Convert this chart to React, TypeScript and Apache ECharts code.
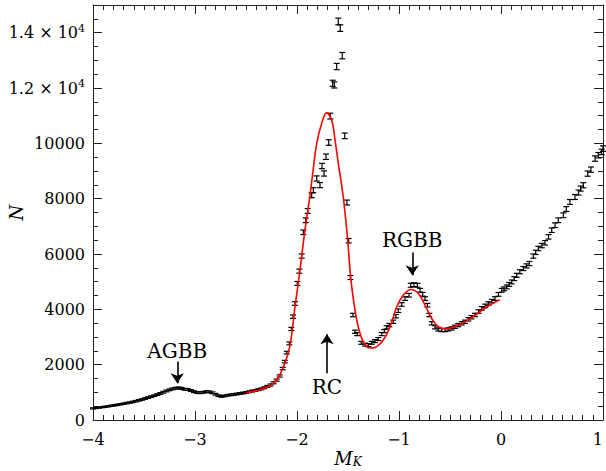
import React, { useEffect, useRef } from "react";
import * as echarts from "echarts";

// Observed counts (black points with error bars)
const obsM: number[] = [
  -4.0, -3.97, -3.94, -3.91, -3.88, -3.85, -3.82, -3.79, -3.76, -3.73, -3.7, -3.67, -3.64, -3.61, -3.58,
  -3.55, -3.52, -3.49, -3.46, -3.43, -3.4, -3.37, -3.34, -3.31, -3.28, -3.25, -3.22, -3.19, -3.16, -3.13,
  -3.1, -3.07, -3.04, -3.01, -2.98, -2.95, -2.92, -2.89, -2.86, -2.83, -2.8, -2.77, -2.74, -2.71, -2.68,
  -2.65, -2.62, -2.59, -2.56, -2.53, -2.5, -2.47, -2.44, -2.41, -2.38, -2.35, -2.32, -2.29, -2.26, -2.23,
  -2.2, -2.17, -2.14, -2.12, -2.1, -2.075, -2.056, -2.039, -2.02, -1.997, -1.977, -1.954, -1.938, -1.915,
  -1.895, -1.856, -1.84, -1.807, -1.775, -1.755, -1.735, -1.716, -1.689, -1.673, -1.65, -1.634, -1.611,
  -1.595, -1.576, -1.556, -1.532, -1.51, -1.493, -1.477, -1.451, -1.431, -1.409, -1.37, -1.333, -1.301,
  -1.268, -1.235, -1.203, -1.17, -1.144, -1.121, -1.095, -1.056, -1.03, -1.007, -0.974, -0.941, -0.902,
  -0.885, -0.853, -0.82, -0.794, -0.768, -0.745, -0.722, -0.703, -0.679, -0.647, -0.615, -0.581, -0.549,
  -0.517, -0.483, -0.451, -0.419, -0.385, -0.353, -0.32, -0.29, -0.255, -0.22, -0.189, -0.155, -0.124,
  -0.09, -0.059, -0.025, 0.007, 0.03, 0.056, 0.08, 0.105, 0.13, 0.154, 0.185, 0.219, 0.25, 0.278, 0.317,
  0.34, 0.366, 0.4, 0.431, 0.466, 0.497, 0.53, 0.562, 0.611, 0.64, 0.676, 0.725, 0.76, 0.781, 0.807, 0.85,
  0.882, 0.922, 0.954, 0.987, 1.0,
];
const obsN: number[] = [
  420, 435, 450, 465, 480, 495, 515, 530, 550, 570, 590, 610, 630, 655, 680,
  710, 740, 775, 810, 845, 880, 920, 960, 1005, 1050, 1090, 1125, 1150, 1160, 1140,
  1110, 1100, 1065, 1025, 995, 985, 1000, 1025, 1020, 985, 930, 880, 850, 870, 895,
  910, 925, 940, 960, 975, 995, 1020, 1045, 1065, 1095, 1125, 1165, 1215, 1265, 1345,
  1440, 1590, 1860, 2110, 2435, 2770, 3290, 3735, 4210, 4935, 5380, 5925, 6785, 7220,
  7555, 8125, 8305, 8730, 8490, 9180, 8910, 9515, 10030, 10985, 12170, 12110, 12775,
  14405, 14165, 13170, 10270, 7860, 6480, 5150, 3795, 3190, 3105, 2790, 2725, 2705,
  2790, 2850, 2925, 3105, 3215, 3350, 3430, 3550, 3750, 3950, 4175, 4390, 4510,
  4870, 4890, 4870, 4690, 4545, 4390, 4150, 3795, 3495, 3350, 3275, 3250, 3250,
  3275, 3310, 3370, 3430, 3495, 3550, 3640, 3715, 3795, 3920, 4035, 4125, 4210,
  4295, 4390, 4540, 4690, 4740, 4810, 4900, 4990, 5110, 5230, 5360, 5475, 5570, 5655, 5925,
  6060, 6200, 6305, 6405, 6620, 6860, 7040, 7220, 7400, 7625, 7880, 8060, 8220, 8365, 8485, 8905,
  9050, 9450, 9570, 9690, 9810,
];

// Fitted model (red curve)
const fitM: number[] = [
  -2.497, -2.366, -2.268, -2.203, -2.154, -2.075, -2.02, -1.971, -1.922, -1.879, -1.846, -1.807,
  -1.758, -1.709, -1.66, -1.627, -1.595, -1.569, -1.539, -1.503, -1.474, -1.431, -1.382, -1.317,
  -1.275, -1.235, -1.154, -1.088, -1.023, -0.958, -0.882, -0.811, -0.745, -0.679, -0.615, -0.533,
  -0.434, -0.32, -0.272, -0.14, -0.01,
];
const fitN: number[] = [
  990, 1085, 1230, 1440, 1740, 2590, 4085, 5415, 6865, 7945, 8910, 10000,
  10720, 11100, 10840, 10115, 9270, 8665, 7825, 6505, 5175, 3975, 3130, 2645,
  2600, 2620, 2890, 3370, 4085, 4510, 4715, 4570, 4150, 3670, 3370, 3290,
  3395, 3615, 3735, 4085, 4350,
];

// Annotations: label, x, text y, arrow start y, arrow tip y
const annLabels: string[] = ["AGBB", "RC", "RGBB"];
const annM: number[] = [-3.174, -1.706, -0.87];
const annTextN: number[] = [2500, 1180, 6500];
const annFromN: number[] = [2110, 1690, 6050];
const annToN: number[] = [1330, 3100, 5230];

const xTicks: number[] = [-4, -3, -2, -1, 0, 1];

const SERIF = "DejaVu Serif";

export default function App() {
  const ref = useRef<HTMLDivElement>(null);
  useEffect(() => {
    if (!ref.current) return;
    const chart = echarts.init(ref.current, null, { renderer: "svg" });
    const axisColor = "#222";
    const xBase = {
      type: "value" as const,
      min: xTicks[0],
      max: xTicks[xTicks.length - 1],
      interval: 1,
      axisLine: { show: true, onZero: false, lineStyle: { color: axisColor, width: 1 } },
      axisTick: { show: true, inside: true, length: 9, lineStyle: { color: axisColor } },
      minorTick: { show: true, splitNumber: 10, length: 5, lineStyle: { color: axisColor } },
      splitLine: { show: false },
    };
    const yBase = {
      type: "value" as const,
      min: 0,
      max: 15000,
      interval: 2000,
      axisLine: { show: true, onZero: false, lineStyle: { color: axisColor, width: 1 } },
      axisTick: { show: true, inside: true, length: 9, lineStyle: { color: axisColor } },
      minorTick: { show: true, splitNumber: 4, length: 5, lineStyle: { color: axisColor } },
      splitLine: { show: false },
    };
    const obsData = obsM.map((m, i) => [m, obsN[i]]);
    const fitData = fitM.map((m, i) => [m, fitN[i]]);
    chart.setOption({
      animation: false,
      textStyle: { fontFamily: SERIF },
      grid: { left: 93, right: 3, top: 5, bottom: 51, outerBoundsMode: "none", containLabel: false },
      xAxis: [
        {
          ...xBase,
          position: "bottom",
          name: "{i|M}{s|K}",
          nameLocation: "middle",
          nameGap: 28,
          nameMoveOverlap: false,
          nameTextStyle: {
            rich: {
              i: { fontFamily: SERIF, fontStyle: "italic", fontSize: 18, color: "#000" },
              s: { fontFamily: SERIF, fontStyle: "italic", fontSize: 12, color: "#000", padding: [8, 0, 0, 0] },
            },
          },
          axisLabel: {
            margin: 11,
            fontFamily: SERIF,
            fontSize: 16,
            color: "#000",
            alignMaxLabel: "right",
            formatter: (v: number) => String(v).replace("-", "\u2212"),
          },
        },
        { ...xBase, position: "top", axisLabel: { show: false } },
      ],
      yAxis: [
        {
          ...yBase,
          position: "left",
          name: "N",
          nameLocation: "middle",
          nameGap: 68,
          nameRotate: 90,
          nameMoveOverlap: false,
          nameTextStyle: { fontFamily: SERIF, fontStyle: "italic", fontSize: 18, color: "#000" },
          axisLabel: {
            margin: 8,
            fontFamily: SERIF,
            fontSize: 16,
            color: "#000",
            formatter: (v: number) => {
              if (v > 14000) return "";
              if (v >= 12000) return `{m|${(v / 10000).toFixed(1)} × 10}{sup|4}`;
              return String(v);
            },
            rich: {
              m: { fontFamily: SERIF, fontSize: 16, color: "#000" },
              sup: { fontFamily: SERIF, fontSize: 11, color: "#000", padding: [0, 0, 9, 0] },
            },
          },
        },
        { ...yBase, position: "right", axisLabel: { show: false } },
      ],
      series: [
        {
          type: "custom",
          name: "obs",
          data: obsData,
          xAxisIndex: 0,
          yAxisIndex: 0,
          z: 2,
          renderItem: (params: any, api: any) => {
            const x = api.value(0);
            const y = api.value(1);
            const e = Math.sqrt(y);
            const lo = api.coord([x, y - e]);
            const hi = api.coord([x, y + e]);
            const w = 3;
            const style = { stroke: "#000", lineWidth: 1.2 };
            return {
              type: "group",
              children: [
                { type: "line", shape: { x1: lo[0], y1: lo[1], x2: hi[0], y2: hi[1] }, style },
                { type: "line", shape: { x1: lo[0] - w, y1: lo[1], x2: lo[0] + w, y2: lo[1] }, style },
                { type: "line", shape: { x1: hi[0] - w, y1: hi[1], x2: hi[0] + w, y2: hi[1] }, style },
              ],
            };
          },
        },
        {
          type: "line",
          name: "fit",
          data: fitData,
          smooth: 0.4,
          showSymbol: false,
          symbol: "none",
          z: 3,
          lineStyle: { color: "#ff0000", width: 1.6 },
          markLine: {
            silent: true,
            symbol: ["none", "arrow"],
            symbolSize: 10,
            label: { show: false },
            lineStyle: { color: "#000", width: 1.6, type: "solid" },
            data: annM.map((m, i) => [
              { coord: [m, annFromN[i]] },
              { coord: [m, annToN[i]] },
            ]),
          },
          markPoint: {
            silent: true,
            symbol: "circle",
            symbolSize: 0,
            label: {
              show: true,
              position: "inside",
              formatter: "{b}",
              fontFamily: SERIF,
              fontSize: 20,
              color: "#000",
            },
            data: annLabels.map((l, i) => ({ name: l, coord: [annM[i], annTextN[i]] })),
          },
        },
      ],
    });
    return () => chart.dispose();
  }, []);
  return (
    <div
      ref={ref}
      style={{ position: "fixed", left: 0, top: 0, width: 606, height: 471, background: "#fff" }}
    />
  );
}
